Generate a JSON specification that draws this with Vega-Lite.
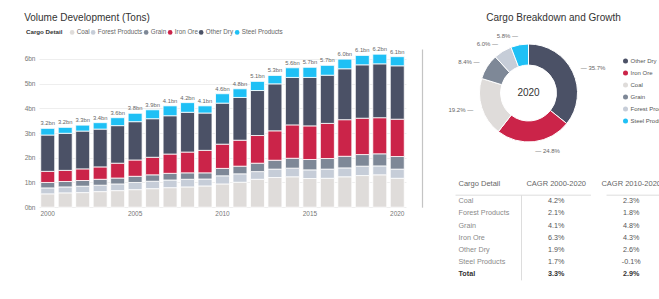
{
  "$schema": "https://vega.github.io/schema/vega-lite/v6.json",
  "padding": {"left": 24, "top": 12, "right": 0, "bottom": 0},
  "config": {
    "font": "Liberation Sans",
    "view": {"stroke": null}
  },
  "datasets": {
    "volume": [
      {"year": 2000, "cargo": "Coal", "value": 0.54}, {"year": 2000, "cargo": "Forest Products", "value": 0.24}, {"year": 2000, "cargo": "Grain", "value": 0.22}, {"year": 2000, "cargo": "Iron Ore", "value": 0.45}, {"year": 2000, "cargo": "Other Dry", "value": 1.47}, {"year": 2000, "cargo": "Steel Products", "value": 0.27},
      {"year": 2001, "cargo": "Coal", "value": 0.58}, {"year": 2001, "cargo": "Forest Products", "value": 0.24}, {"year": 2001, "cargo": "Grain", "value": 0.22}, {"year": 2001, "cargo": "Iron Ore", "value": 0.45}, {"year": 2001, "cargo": "Other Dry", "value": 1.50}, {"year": 2001, "cargo": "Steel Products", "value": 0.24},
      {"year": 2002, "cargo": "Coal", "value": 0.59}, {"year": 2002, "cargo": "Forest Products", "value": 0.26}, {"year": 2002, "cargo": "Grain", "value": 0.23}, {"year": 2002, "cargo": "Iron Ore", "value": 0.47}, {"year": 2002, "cargo": "Other Dry", "value": 1.53}, {"year": 2002, "cargo": "Steel Products", "value": 0.24},
      {"year": 2003, "cargo": "Coal", "value": 0.63}, {"year": 2003, "cargo": "Forest Products", "value": 0.26}, {"year": 2003, "cargo": "Grain", "value": 0.24}, {"year": 2003, "cargo": "Iron Ore", "value": 0.50}, {"year": 2003, "cargo": "Other Dry", "value": 1.53}, {"year": 2003, "cargo": "Steel Products", "value": 0.26},
      {"year": 2004, "cargo": "Coal", "value": 0.67}, {"year": 2004, "cargo": "Forest Products", "value": 0.27}, {"year": 2004, "cargo": "Grain", "value": 0.24}, {"year": 2004, "cargo": "Iron Ore", "value": 0.60}, {"year": 2004, "cargo": "Other Dry", "value": 1.52}, {"year": 2004, "cargo": "Steel Products", "value": 0.32},
      {"year": 2005, "cargo": "Coal", "value": 0.71}, {"year": 2005, "cargo": "Forest Products", "value": 0.29}, {"year": 2005, "cargo": "Grain", "value": 0.25}, {"year": 2005, "cargo": "Iron Ore", "value": 0.66}, {"year": 2005, "cargo": "Other Dry", "value": 1.55}, {"year": 2005, "cargo": "Steel Products", "value": 0.34},
      {"year": 2006, "cargo": "Coal", "value": 0.75}, {"year": 2006, "cargo": "Forest Products", "value": 0.30}, {"year": 2006, "cargo": "Grain", "value": 0.26}, {"year": 2006, "cargo": "Iron Ore", "value": 0.71}, {"year": 2006, "cargo": "Other Dry", "value": 1.56}, {"year": 2006, "cargo": "Steel Products", "value": 0.36},
      {"year": 2007, "cargo": "Coal", "value": 0.79}, {"year": 2007, "cargo": "Forest Products", "value": 0.31}, {"year": 2007, "cargo": "Grain", "value": 0.27}, {"year": 2007, "cargo": "Iron Ore", "value": 0.78}, {"year": 2007, "cargo": "Other Dry", "value": 1.55}, {"year": 2007, "cargo": "Steel Products", "value": 0.40},
      {"year": 2008, "cargo": "Coal", "value": 0.82}, {"year": 2008, "cargo": "Forest Products", "value": 0.31}, {"year": 2008, "cargo": "Grain", "value": 0.26}, {"year": 2008, "cargo": "Iron Ore", "value": 0.84}, {"year": 2008, "cargo": "Other Dry", "value": 1.61}, {"year": 2008, "cargo": "Steel Products", "value": 0.39},
      {"year": 2009, "cargo": "Coal", "value": 0.86}, {"year": 2009, "cargo": "Forest Products", "value": 0.28}, {"year": 2009, "cargo": "Grain", "value": 0.25}, {"year": 2009, "cargo": "Iron Ore", "value": 0.91}, {"year": 2009, "cargo": "Other Dry", "value": 1.51}, {"year": 2009, "cargo": "Steel Products", "value": 0.29},
      {"year": 2010, "cargo": "Coal", "value": 0.94}, {"year": 2010, "cargo": "Forest Products", "value": 0.33}, {"year": 2010, "cargo": "Grain", "value": 0.30}, {"year": 2010, "cargo": "Iron Ore", "value": 0.98}, {"year": 2010, "cargo": "Other Dry", "value": 1.66}, {"year": 2010, "cargo": "Steel Products", "value": 0.38},
      {"year": 2011, "cargo": "Coal", "value": 1.01}, {"year": 2011, "cargo": "Forest Products", "value": 0.34}, {"year": 2011, "cargo": "Grain", "value": 0.31}, {"year": 2011, "cargo": "Iron Ore", "value": 1.05}, {"year": 2011, "cargo": "Other Dry", "value": 1.73}, {"year": 2011, "cargo": "Steel Products", "value": 0.35},
      {"year": 2012, "cargo": "Coal", "value": 1.13}, {"year": 2012, "cargo": "Forest Products", "value": 0.31}, {"year": 2012, "cargo": "Grain", "value": 0.34}, {"year": 2012, "cargo": "Iron Ore", "value": 1.12}, {"year": 2012, "cargo": "Other Dry", "value": 1.82}, {"year": 2012, "cargo": "Steel Products", "value": 0.37},
      {"year": 2013, "cargo": "Coal", "value": 1.20}, {"year": 2013, "cargo": "Forest Products", "value": 0.34}, {"year": 2013, "cargo": "Grain", "value": 0.36}, {"year": 2013, "cargo": "Iron Ore", "value": 1.19}, {"year": 2013, "cargo": "Other Dry", "value": 1.90}, {"year": 2013, "cargo": "Steel Products", "value": 0.34},
      {"year": 2014, "cargo": "Coal", "value": 1.23}, {"year": 2014, "cargo": "Forest Products", "value": 0.35}, {"year": 2014, "cargo": "Grain", "value": 0.40}, {"year": 2014, "cargo": "Iron Ore", "value": 1.35}, {"year": 2014, "cargo": "Other Dry", "value": 1.92}, {"year": 2014, "cargo": "Steel Products", "value": 0.39},
      {"year": 2015, "cargo": "Coal", "value": 1.16}, {"year": 2015, "cargo": "Forest Products", "value": 0.35}, {"year": 2015, "cargo": "Grain", "value": 0.42}, {"year": 2015, "cargo": "Iron Ore", "value": 1.36}, {"year": 2015, "cargo": "Other Dry", "value": 1.96}, {"year": 2015, "cargo": "Steel Products", "value": 0.41},
      {"year": 2016, "cargo": "Coal", "value": 1.17}, {"year": 2016, "cargo": "Forest Products", "value": 0.37}, {"year": 2016, "cargo": "Grain", "value": 0.43}, {"year": 2016, "cargo": "Iron Ore", "value": 1.42}, {"year": 2016, "cargo": "Other Dry", "value": 1.95}, {"year": 2016, "cargo": "Steel Products", "value": 0.40},
      {"year": 2017, "cargo": "Coal", "value": 1.23}, {"year": 2017, "cargo": "Forest Products", "value": 0.36}, {"year": 2017, "cargo": "Grain", "value": 0.47}, {"year": 2017, "cargo": "Iron Ore", "value": 1.48}, {"year": 2017, "cargo": "Other Dry", "value": 2.06}, {"year": 2017, "cargo": "Steel Products", "value": 0.39},
      {"year": 2018, "cargo": "Coal", "value": 1.28}, {"year": 2018, "cargo": "Forest Products", "value": 0.38}, {"year": 2018, "cargo": "Grain", "value": 0.47}, {"year": 2018, "cargo": "Iron Ore", "value": 1.47}, {"year": 2018, "cargo": "Other Dry", "value": 2.16}, {"year": 2018, "cargo": "Steel Products", "value": 0.38},
      {"year": 2019, "cargo": "Coal", "value": 1.31}, {"year": 2019, "cargo": "Forest Products", "value": 0.36}, {"year": 2019, "cargo": "Grain", "value": 0.49}, {"year": 2019, "cargo": "Iron Ore", "value": 1.46}, {"year": 2019, "cargo": "Other Dry", "value": 2.18}, {"year": 2019, "cargo": "Steel Products", "value": 0.39},
      {"year": 2020, "cargo": "Coal", "value": 1.17}, {"year": 2020, "cargo": "Forest Products", "value": 0.37}, {"year": 2020, "cargo": "Grain", "value": 0.51}, {"year": 2020, "cargo": "Iron Ore", "value": 1.51}, {"year": 2020, "cargo": "Other Dry", "value": 2.16}, {"year": 2020, "cargo": "Steel Products", "value": 0.37}
    ],
    "share": [
      {"cargo": "Other Dry", "share": 0.357},
      {"cargo": "Iron Ore", "share": 0.248},
      {"cargo": "Coal", "share": 0.192},
      {"cargo": "Grain", "share": 0.084},
      {"cargo": "Forest Products", "share": 0.060},
      {"cargo": "Steel Products", "share": 0.058}
    ],
    "center": [{"year": "2020"}],
    "headers": [{"col": "Cargo Detail"}, {"col": "CAGR 2000-2020"}, {"col": "CAGR 2010-2020"}],
    "table": [
      {"Cargo Detail": "Coal", "CAGR 2000-2020": "4.2%", "CAGR 2010-2020": "2.3%"},
      {"Cargo Detail": "Forest Products", "CAGR 2000-2020": "2.1%", "CAGR 2010-2020": "1.8%"},
      {"Cargo Detail": "Grain", "CAGR 2000-2020": "4.1%", "CAGR 2010-2020": "4.8%"},
      {"Cargo Detail": "Iron Ore", "CAGR 2000-2020": "6.3%", "CAGR 2010-2020": "4.3%"},
      {"Cargo Detail": "Other Dry", "CAGR 2000-2020": "1.9%", "CAGR 2010-2020": "2.6%"},
      {"Cargo Detail": "Steel Products", "CAGR 2000-2020": "1.7%", "CAGR 2010-2020": "-0.1%"},
      {"Cargo Detail": "Total", "CAGR 2000-2020": "3.3%", "CAGR 2010-2020": "2.9%"}
    ]
  },
  "resolve": {"scale": {"color": "independent"}, "legend": {"color": "independent"}},
  "spacing": 15.5,
  "hconcat": [
    {
      "title": {"text": "Volume Development (Tons)", "anchor": "start", "frame": "bounds", "fontSize": 10, "fontWeight": "normal", "color": "#333333", "offset": 6},
      "width": 367,
      "height": 158.2,
      "data": {"name": "volume"},
      "resolve": {"axis": {"y": "independent"}},
      "encoding": {
        "x": {"field": "year", "type": "ordinal", "scale": {"paddingInner": 0.2, "paddingOuter": 0.1},
              "axis": {"values": [2000, 2005, 2010, 2015, 2020], "labelAngle": 0, "ticks": false, "domain": false, "labelFontSize": 6.5, "labelColor": "#777777", "labelPadding": 3, "title": null}}
      },
      "layer": [
        {
          "mark": {"type": "bar", "stroke": "white", "strokeWidth": 0.8},
          "encoding": {
            "y": {"field": "value", "type": "quantitative", "stack": "zero", "scale": {"domain": [0, 6.4], "nice": false},
                  "axis": {"values": [0, 1, 2, 3, 4, 5, 6], "tickCount": 7, "labelExpr": "datum.value + 'bn'", "labelOverlap": false, "ticks": false, "domain": false, "gridColor": "#eeeeee", "labelFontSize": 6.5, "labelColor": "#777777", "labelPadding": 4, "title": null}},
            "order": {"field": "cargo", "sort": "ascending"},
            "color": {"field": "cargo", "type": "nominal",
                      "scale": {"domain": ["Coal", "Forest Products", "Grain", "Iron Ore", "Other Dry", "Steel Products"], "range": ["#dfdcda", "#c6cdd8", "#7e8897", "#cb2449", "#4b5166", "#1fc0f5"]},
                      "legend": {"orient": "none", "legendX": -13, "legendY": -20, "direction": "horizontal", "title": "Cargo Detail", "titleOrient": "left", "titleFontSize": 6.2, "titleFontWeight": "bold", "titleColor": "#333333", "titlePadding": 6, "labelFontSize": 6.3, "labelColor": "#666666", "symbolType": "circle", "symbolSize": 22, "symbolStrokeWidth": 0, "columnPadding": 0, "labelOffset": 1.5}}
          }
        },
        {
          "mark": {"type": "text", "text": {"expr": "format(datum.sum_value, '.1f') + 'bn'"}, "baseline": "bottom", "dy": -2, "fontSize": 5.8, "color": "#666666"},
          "encoding": {
            "y": {"aggregate": "sum", "field": "value", "type": "quantitative",
                  "axis": {"orient": "right", "offset": 16, "domain": true, "domainColor": "#c4c4c4", "domainWidth": 1.2, "labels": false, "ticks": false, "grid": false, "title": null}}
          }
        }
      ]
    },
    {
      "spacing": 26,
      "vconcat": [
        {
          "title": {"text": "Cargo Breakdown and Growth", "fontSize": 10, "fontWeight": "normal", "color": "#333333", "anchor": "middle", "dx": 25, "offset": 10},
          "width": 182,
          "height": 88,
          "layer": [
            {
              "data": {"name": "share"},
              "mark": {"type": "arc", "outerRadius": 49, "innerRadius": 28, "stroke": "white", "strokeWidth": 1},
              "encoding": {
                "theta": {"field": "share", "type": "quantitative", "stack": true},
                "order": {"field": "share", "sort": "descending"},
                "color": {"field": "cargo", "type": "nominal",
                          "scale": {"domain": ["Other Dry", "Iron Ore", "Coal", "Grain", "Forest Products", "Steel Products"], "range": ["#4b5166", "#cb2449", "#dfdcda", "#7e8897", "#c6cdd8", "#1fc0f5"]},
                          "legend": {"orient": "none", "legendX": 185, "legendY": 9, "title": null, "labelFontSize": 6, "labelColor": "#555555", "symbolType": "circle", "symbolSize": 25, "symbolStrokeWidth": 0, "rowPadding": 6, "labelOffset": 2}}
              }
            },
            {
              "data": {"name": "share"},
              "mark": {"type": "text", "radius": 58, "fontSize": 6, "color": "#666666",
                       "text": {"expr": "datum.cargo == 'Other Dry' || datum.cargo == 'Iron Ore' ? '\u2014 ' + format(datum.share, '.1%') : format(datum.share, '.1%') + ' \u2014'"},
                       "align": {"expr": "datum.cargo == 'Other Dry' || datum.cargo == 'Iron Ore' ? 'left' : 'right'"}},
              "encoding": {
                "theta": {"field": "share", "type": "quantitative", "stack": true},
                "order": {"field": "share", "sort": "descending"}
              }
            },
            {
              "data": {"name": "center"},
              "mark": {"type": "text", "fontSize": 10, "color": "#333333"},
              "encoding": {"text": {"field": "year", "type": "nominal"}}
            }
          ]
        },
        {
          "width": 237.4,
          "height": 97.4,
          "layer": [
            {
              "data": {"name": "headers"},
              "transform": [{"filter": "datum.col == 'Cargo Detail'"}],
              "mark": {"type": "text", "align": "left", "dx": 12, "dy": -5, "fontSize": 7.5, "color": "#666666"},
              "encoding": {
                "x": {"field": "col", "type": "nominal", "bandPosition": 0,
                      "scale": {"type": "band", "domain": ["Cargo Detail", "CAGR 2000-2020", "CAGR 2010-2020"], "paddingInner": 0.075, "paddingOuter": 0.12}, "axis": null},
                "y": {"datum": "Header", "type": "nominal",
                      "scale": {"type": "band", "domain": ["Header", "Coal", "Forest Products", "Grain", "Iron Ore", "Other Dry", "Steel Products", "Total"], "paddingInner": 0, "paddingOuter": 0}, "axis": null},
                "text": {"field": "col", "type": "nominal"}
              }
            },
            {
              "data": {"name": "headers"},
              "transform": [{"filter": "datum.col != 'Cargo Detail'"}],
              "mark": {"type": "text", "align": "center", "dy": -5, "fontSize": 7.5, "color": "#666666"},
              "encoding": {
                "x": {"field": "col", "type": "nominal", "axis": null},
                "y": {"datum": "Header", "type": "nominal", "axis": null},
                "text": {"field": "col", "type": "nominal"}
              }
            },
            {
              "data": {"name": "headers"},
              "transform": [{"filter": "datum.col == 'Cargo Detail'"}],
              "mark": {"type": "rule", "color": "#dddddd", "strokeWidth": 1, "xOffset": 9},
              "encoding": {
                "x": {"datum": "Cargo Detail", "type": "nominal", "bandPosition": 0, "axis": null},
                "x2": {"datum": "CAGR 2000-2020", "bandPosition": 1},
                "y": {"datum": "Coal", "type": "nominal", "bandPosition": 0, "axis": null}
              }
            },
            {
              "data": {"name": "headers"},
              "transform": [{"filter": "datum.col == 'CAGR 2010-2020'"}],
              "mark": {"type": "rule", "color": "#dddddd", "strokeWidth": 1, "xOffset": 10},
              "encoding": {
                "x": {"field": "col", "type": "nominal", "bandPosition": 0, "axis": null},
                "x2": {"field": "col", "bandPosition": 1},
                "y": {"datum": "Coal", "type": "nominal", "bandPosition": 0, "axis": null}
              }
            },
            {
              "data": {"name": "headers"},
              "transform": [{"filter": "datum.col == 'CAGR 2000-2020'"}],
              "mark": {"type": "rule", "color": "#dddddd", "strokeWidth": 1},
              "encoding": {
                "x": {"field": "col", "type": "nominal", "bandPosition": 0, "axis": null},
                "y": {"datum": "Coal", "type": "nominal", "bandPosition": 0, "axis": null},
                "y2": {"datum": "Total", "bandPosition": 1}
              }
            },
            {
              "data": {"name": "table"},
              "transform": [{"filter": "datum['Cargo Detail'] != 'Total'"}],
              "mark": {"type": "text", "align": "left", "dx": 12, "fontSize": 7.2, "color": "#8a8a8a"},
              "encoding": {
                "x": {"datum": "Cargo Detail", "type": "nominal", "bandPosition": 0, "axis": null},
                "y": {"field": "Cargo Detail", "type": "nominal", "axis": null},
                "text": {"field": "Cargo Detail", "type": "nominal"}
              }
            },
            {
              "data": {"name": "table"},
              "transform": [{"filter": "datum['Cargo Detail'] == 'Total'"}],
              "mark": {"type": "text", "align": "left", "dx": 12, "fontSize": 7.2, "fontWeight": "bold", "color": "#333333"},
              "encoding": {
                "x": {"datum": "Cargo Detail", "type": "nominal", "bandPosition": 0, "axis": null},
                "y": {"field": "Cargo Detail", "type": "nominal", "axis": null},
                "text": {"field": "Cargo Detail", "type": "nominal"}
              }
            },
            {
              "data": {"name": "table"},
              "transform": [
                {"fold": ["CAGR 2000-2020", "CAGR 2010-2020"], "as": ["period", "cagr"]},
                {"filter": "datum['Cargo Detail'] != 'Total'"}
              ],
              "mark": {"type": "text", "align": "center", "fontSize": 7.2, "color": "#555555"},
              "encoding": {
                "x": {"field": "period", "type": "nominal", "axis": null},
                "y": {"field": "Cargo Detail", "type": "nominal", "axis": null},
                "text": {"field": "cagr", "type": "nominal"}
              }
            },
            {
              "data": {"name": "table"},
              "transform": [
                {"fold": ["CAGR 2000-2020", "CAGR 2010-2020"], "as": ["period", "cagr"]},
                {"filter": "datum['Cargo Detail'] == 'Total'"}
              ],
              "mark": {"type": "text", "align": "center", "fontSize": 7.2, "fontWeight": "bold", "color": "#333333"},
              "encoding": {
                "x": {"field": "period", "type": "nominal", "axis": null},
                "y": {"field": "Cargo Detail", "type": "nominal", "axis": null},
                "text": {"field": "cagr", "type": "nominal"}
              }
            }
          ]
        }
      ]
    }
  ]
}
